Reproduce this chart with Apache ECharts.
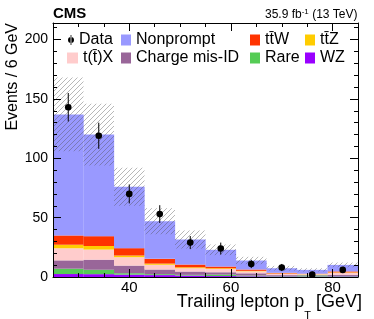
<!DOCTYPE html>
<html><head><meta charset="utf-8">
<script src="https://cdn.jsdelivr.net/npm/echarts@6/dist/echarts.min.js"></script>
<style>html,body{margin:0;padding:0;background:#fff}#c{width:374px;height:319px}</style>
</head><body><div id="c"></div>
<script>
// ---- data ----
const binCenters = ['28', '34', '40', '46', '52', '58', '64', '70', '76', '82']; // 6 GeV bins from 25 to 85
const xMajorTicks = [40, 60, 80];
const xMinorTicks = [30, 35, 45, 50, 55, 65, 70, 75];
const wz          = [2.5, 2.4, 2.0, 1.6, 1.2, 0.8, 0.6, 0.5, 0.4, 0.5];
const rare        = [4.5, 3.7, 1.2, 0.8, 0.6, 1.2, 0.6, 0.4, 0.9, 0.4];
const chargeMisID = [7.0, 8.5, 6.4, 3.9, 2.8, 2.0, 1.9, 0.7, 0.5, 1.0];
const ttX         = [10.2, 8.5, 7.1, 4.0, 2.8, 2.8, 1.7, 1.1, 0.5, 1.6];
const ttZ         = [3.0, 3.0, 1.4, 1.0, 0.8, 0.6, 0.4, 0.3, 0.2, 0.4];
const ttW         = [7.8, 8.3, 6.2, 4.0, 2.3, 1.4, 1.1, 0.5, 0.3, 0.8];
const nonprompt   = [102, 85.6, 51.7, 31.7, 21.1, 14.1, 7.6, 3.9, 3.2, 5.5];
const totalUnc    = [31, 26, 16, 11, 7.6, 4.5, 3.1, 2.0, 1.4, 2.0];
const dataY       = [143, 119, 70, 53, 29, 24, 11, 8, 2, 6];
const dataErrLo   = [12, 11, 8, 7.5, 5.5, 5, 3.5, 3, 1.3, 2.5];
const dataErrHi   = [12, 11, 8, 7.5, 5.5, 5, 3.5, 3, 2.6, 2.5];

// ---- build ----
const FONT = 'Liberation Sans';
const components = [
  {name: 'WZ', values: wz, color: '#9900ff'},
  {name: 'Rare', values: rare, color: '#55cc55'},
  {name: 'Charge mis-ID', values: chargeMisID, color: '#996699'},
  {name: 't(t\u0304)X', values: ttX, color: '#ffcccc'},
  {name: 'tt\u0304Z', values: ttZ, color: '#ffcc00'},
  {name: 'tt\u0304W', values: ttW, color: '#ff3300'},
  {name: 'Nonprompt', values: nonprompt, color: '#9999ff'}
];
const totals = binCenters.map((_, i) => components.reduce((s, c) => s + c.values[i], 0));

const hatch = document.createElement('canvas');
hatch.width = 5; hatch.height = 5;
const hc = hatch.getContext('2d');
hc.strokeStyle = 'rgba(80,80,80,0.45)';
hc.lineWidth = 0.9;
hc.beginPath();
hc.moveTo(-1, 6); hc.lineTo(6, -1);
hc.moveTo(-1, 1); hc.lineTo(1, -1);
hc.moveTo(4, 6); hc.lineTo(6, 4);
hc.stroke();

const series = components.map(c => ({
  name: c.name, type: 'bar', stack: 'mc', xAxisIndex: 4, yAxisIndex: 0,
  data: c.values, barWidth: '100.5%', barGap: '-100%', barCategoryGap: 0,
  itemStyle: {color: c.color, borderWidth: 0}, emphasis: {disabled: true}
}));
series.push({
  name: 'uncBase', type: 'bar', stack: 'unc', xAxisIndex: 4, yAxisIndex: 0,
  data: totals.map((t, i) => t - totalUnc[i]), barWidth: '100%', barGap: '-100%',
  itemStyle: {color: 'rgba(0,0,0,0)'}, silent: true
});
series.push({
  name: 'uncBand', type: 'bar', stack: 'unc', xAxisIndex: 4, yAxisIndex: 0,
  data: totalUnc.map(u => 2 * u), barWidth: '100%', barGap: '-100%',
  itemStyle: {color: {image: hatch, repeat: 'repeat'}}, silent: true
});
series.push({
  name: 'Data', type: 'custom', xAxisIndex: 4, yAxisIndex: 0, z: 10,
  itemStyle: {color: '#000'},
  data: dataY.map((y, i) => [i, y, dataErrLo[i], dataErrHi[i]]),
  encode: {x: 0, y: 1},
  renderItem: function (params, api) {
    const i = api.value(0), y = api.value(1);
    const p = api.coord([i, y]);
    const lo = api.coord([i, y - api.value(2)]);
    const hi = api.coord([i, y + api.value(3)]);
    return {type: 'group', children: [
      {type: 'line', shape: {x1: p[0], y1: hi[1], x2: p[0], y2: lo[1]}, style: {stroke: '#000', lineWidth: 1}},
      {type: 'circle', shape: {cx: p[0], cy: p[1], r: 3.3}, style: {fill: '#000'}}
    ]};
  }
});

const dataIcon = 'path://M2.6,0 L3.4,0 L3.4,10 L2.6,10 Z M0,5 A3,3 0 1 0 6,5 A3,3 0 1 0 0,5 Z';
const legendSpec = [
  {name: 'Data', left: 68, top: 32, w: 6, h: 11, icon: dataIcon},
  {name: 'Nonprompt', left: 121, top: 32, w: 10, h: 11, icon: 'rect'},
  {name: 'tt\u0304W', left: 250, top: 32, w: 10, h: 11, icon: 'rect'},
  {name: 'tt\u0304Z', left: 305, top: 32, w: 10, h: 11, icon: 'rect'},
  {name: 't(t\u0304)X', left: 67, top: 50, w: 11, h: 11, icon: 'rect'},
  {name: 'Charge mis-ID', left: 121, top: 50, w: 10, h: 11, icon: 'rect'},
  {name: 'Rare', left: 250, top: 50, w: 10, h: 11, icon: 'rect'},
  {name: 'WZ', left: 305, top: 50, w: 10, h: 11, icon: 'rect'}
];
const legends = legendSpec.map(l => ({
  data: [{name: l.name, icon: l.icon}], left: l.left, top: l.top,
  itemWidth: l.w, itemHeight: l.h, padding: 0, selectedMode: false,
  textStyle: {fontFamily: FONT, fontSize: 16, color: '#000'}
}));

const axisLineStyle = {show: true, lineStyle: {color: '#000', width: 1}};
const xBase = {type: 'value', min: 25, max: 85, splitLine: {show: false}, z: 20};
const yBase = {
  type: 'value', min: 0, max: 214, interval: 50, z: 20,
  axisLine: axisLineStyle,
  axisTick: {inside: true, length: 8, lineStyle: {color: '#000'}},
  minorTick: {show: true, splitNumber: 5, length: 4, lineStyle: {color: '#000'}},
  splitLine: {show: false}, minorSplitLine: {show: false}
};

const option = {
  animation: false,
  textStyle: {fontFamily: FONT},
  grid: {left: 53, right: 16, top: 23, bottom: 42},
  legend: legends,
  xAxis: [
    Object.assign({}, xBase, {position: 'bottom', axisLine: axisLineStyle,
      axisTick: {inside: true, length: 8, customValues: xMajorTicks, lineStyle: {color: '#000'}},
      axisLabel: {customValues: xMajorTicks, color: '#000', fontSize: 15, margin: 3, fontFamily: FONT}}),
    Object.assign({}, xBase, {position: 'bottom', axisLine: {show: false},
      axisTick: {inside: true, length: 4, customValues: xMinorTicks, lineStyle: {color: '#000'}},
      axisLabel: {show: false}}),
    Object.assign({}, xBase, {position: 'top', axisLine: axisLineStyle,
      axisTick: {inside: true, length: 8, customValues: xMajorTicks, lineStyle: {color: '#000'}},
      axisLabel: {show: false}}),
    Object.assign({}, xBase, {position: 'top', axisLine: {show: false},
      axisTick: {inside: true, length: 4, customValues: xMinorTicks, lineStyle: {color: '#000'}},
      axisLabel: {show: false}}),
    {type: 'category', data: binCenters, show: false, position: 'bottom', boundaryGap: true}
  ],
  yAxis: [
    Object.assign({}, yBase, {position: 'left',
      axisLabel: {color: '#000', fontSize: 14, margin: 5, fontFamily: FONT,
        formatter: v => (v % 50 === 0 ? String(v) : '')}}),
    Object.assign({}, yBase, {position: 'right', axisLabel: {show: false}})
  ],
  graphic: [
    {type: 'text', x: 53, y: 14, style: {text: 'CMS', font: 'bold 15px "Liberation Sans"', fill: '#000', verticalAlign: 'middle', align: 'left'}},
    {type: 'text', x: 357.5, y: 14.5, style: {
      text: '{n|35.9 fb}{s|-1}{n| (13 TeV)}', align: 'right', verticalAlign: 'middle',
      rich: {n: {fontFamily: FONT, fontSize: 12, fill: '#000', verticalAlign: 'bottom'},
             s: {fontFamily: FONT, fontSize: 8, fill: '#000', verticalAlign: 'bottom', padding: [0, 0, 5, 0]}}}},
    {type: 'text', x: 13, y: 23, rotation: Math.PI / 2, style: {
      text: 'Events / 6 GeV', font: '16px "Liberation Sans"', fill: '#000', align: 'right', verticalAlign: 'middle'}},
    {type: 'text', x: 362, y: 321, style: {
      text: '{n|Trailing lepton p}{s|T}{n| [GeV]}', align: 'right', verticalAlign: 'bottom',
      rich: {n: {fontFamily: FONT, fontSize: 18, fill: '#000', verticalAlign: 'bottom', padding: [0, 0, 9.5, 0]},
             s: {fontFamily: FONT, fontSize: 11, fill: '#000', verticalAlign: 'bottom'}}}}
  ],
  series: series
};
const chart = echarts.init(document.getElementById('c'), null, {renderer: 'canvas'});
chart.setOption(option);
</script>
</body></html>
